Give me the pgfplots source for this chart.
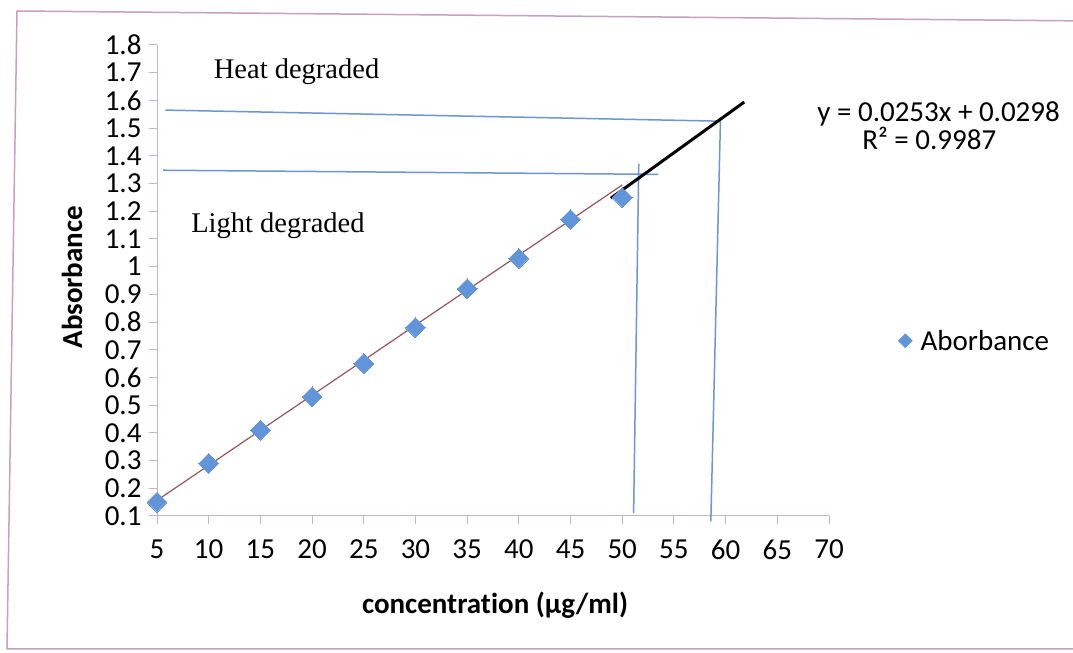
\documentclass[border=0pt]{standalone}
\usepackage{pgfplots}
\pgfplotsset{compat=1.18}
\usepackage{fontspec}
\setmainfont{Carlito}[Ligatures=NoCommon]
\newfontfamily\seriffont{Liberation Serif}
\definecolor{axisgray}{RGB}{205,178,196}
\definecolor{mblue}{RGB}{98,148,218}
\definecolor{lblue}{RGB}{110,150,215}
\definecolor{trend}{RGB}{150,85,95}
\definecolor{framec}{RGB}{200,160,185}
\begin{document}
\begin{tikzpicture}[x=1bp,y=1bp]
\useasboundingbox (0,0) rectangle (1073,653);
\fill[white] (0,0) rectangle (1073,653);
\draw[framec, line width=1.5bp] (17,642) -- (1090,632);
\draw[framec, line width=1.5bp] (17,642) -- (7,4) -- (1090,4);
\begin{axis}[
  at={(157bp,137bp)}, anchor=south west,
  width=672bp, height=471bp, scale only axis,
  xmin=5, xmax=70, ymin=0.1, ymax=1.8,
  axis lines=left,
  axis line style={axisgray, line width=1bp, -},
  xtick={5,10,15,20,25,30,35,40,45,50,55,60,65,70},
  ytick={0.1,0.2,0.3,0.4,0.5,0.6,0.7,0.8,0.9,1.0,1.1,1.2,1.3,1.4,1.5,1.6,1.7,1.8},
  yticklabels={0.1,0.2,0.3,0.4,0.5,0.6,0.7,0.8,0.9,1,1.1,1.2,1.3,1.4,1.5,1.6,1.7,1.8},
  tick align=outside, major tick length=8bp,
  tick style={axisgray, line width=1bp},
  font=\fontsize{29bp}{35bp}\selectfont,
  /pgf/number format/assume math mode=true,
  xticklabel style={yshift=-12bp},
  yticklabel style={xshift=-4bp},
  xlabel={\bfseries concentration (µg/ml)},
  ylabel={\bfseries Absorbance},
  every axis x label/.style={at={(axis description cs:0.503,-0.189)}, anchor=center},
  every axis y label/.style={at={(axis description cs:-0.1265,0.507)}, rotate=90, anchor=center},
  clip=false,
  legend style={at={(axis description cs:1.1025,0.372)}, anchor=west, draw=none, fill=none, inner sep=0pt,
    font=\fontsize{29bp}{35bp}\selectfont,
    /tikz/every odd column/.style={column sep=6bp}},
  legend image code/.code={\fill[mblue,rotate=45] (-5bp,-5bp) rectangle (5bp,5bp);},
]
\addplot[only marks, color=mblue, mark=square*, mark size=7bp, mark options={rotate=45, fill=mblue, draw=mblue, line width=0pt}]
  coordinates {(5,0.15) (10,0.29) (15,0.41) (20,0.53) (25,0.65) (30,0.78) (35,0.92) (40,1.03) (45,1.17) (50,1.25)};
\addlegendentry{Aborbance}
\addplot[trend, line width=1.2bp, forget plot] coordinates {(5,0.1563) (50,1.2948)};
\addplot[lblue, line width=1.5bp, forget plot] coordinates {(5.8,1.565) (59.5,1.525) (58.57,0.081)};
\addplot[lblue, line width=1.5bp, forget plot] coordinates {(5.6,1.348) (53.5,1.333)};
\addplot[lblue, line width=1.5bp, forget plot] coordinates {(51.6,1.372) (51.1,0.11)};
\addplot[black, line width=3bp, forget plot] coordinates {(48.9,1.247) (61.8,1.594)};
\node[anchor=base, font=\seriffont\fontsize{28.5bp}{34bp}\selectfont] at (axis cs:18.5,1.68) {Heat degraded};
\node[anchor=base, font=\seriffont\fontsize{28.5bp}{34bp}\selectfont] at (axis cs:16.7,1.124) {Light degraded};
\node[anchor=base] at (axis cs:80.6,1.525) {y = 0.0253x + 0.0298};
\node[anchor=base] at (axis cs:79.7,1.424) {R² = 0.9987};
\end{axis}
\end{tikzpicture}
\end{document}
